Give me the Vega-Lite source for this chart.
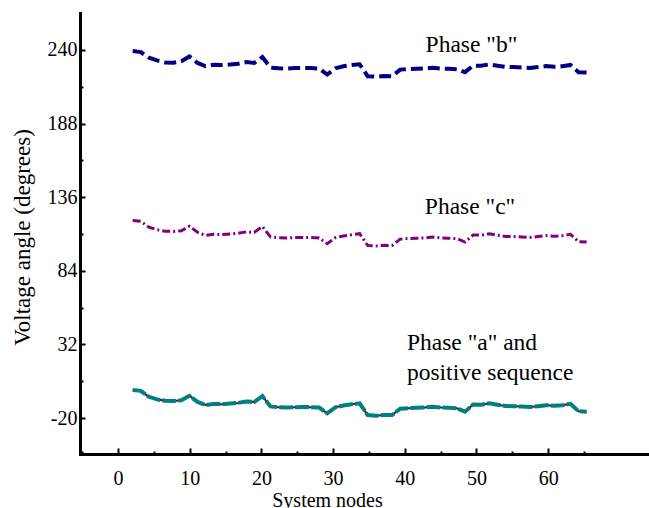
{
  "$schema": "https://vega.github.io/schema/vega-lite/v6.json",
  "width": 569,
  "height": 441,
  "autosize": {"type": "none"},
  "padding": {"left": 80, "top": 13, "right": 0, "bottom": 54},
  "config": {
    "view": {"stroke": null},
    "font": "Liberation Serif",
    "axis": {
      "labelFont": "Liberation Serif",
      "titleFont": "Liberation Serif",
      "labelColor": "black",
      "titleColor": "black",
      "domainColor": "black",
      "tickColor": "black",
      "grid": false,
      "labelFontSize": 20,
      "titleFontSize": 23,
      "titleFontWeight": "normal",
      "domainWidth": 3,
      "domainCap": "square",
      "tickWidth": 2
    }
  },
  "datasets": {
    "angles": [
      {"node":1,"x":2.05,"a":-0.2,"p":-0.2,"b":239.3,"c":119.6},
      {"node":2,"x":3.18,"a":-0.8,"p":-0.8,"b":238.5,"c":119.0},
      {"node":3,"x":4.31,"a":-5.0,"p":-5.0,"b":234.6,"c":114.8},
      {"node":4,"x":5.44,"a":-6.8,"p":-6.8,"b":232.6,"c":113.0},
      {"node":5,"x":6.57,"a":-7.8,"p":-7.8,"b":231.2,"c":112.0},
      {"node":6,"x":7.70,"a":-8.0,"p":-8.0,"b":231.0,"c":111.8},
      {"node":7,"x":8.83,"a":-7.5,"p":-7.5,"b":232.0,"c":112.3},
      {"node":8,"x":9.96,"a":-4.3,"p":-4.3,"b":235.4,"c":115.5},
      {"node":9,"x":11.09,"a":-8.6,"p":-8.6,"b":230.8,"c":111.2},
      {"node":10,"x":12.22,"a":-10.8,"p":-10.8,"b":228.5,"c":109.0},
      {"node":11,"x":13.36,"a":-10.0,"p":-10.0,"b":229.5,"c":109.8},
      {"node":12,"x":14.49,"a":-10.2,"p":-10.2,"b":229.3,"c":109.6},
      {"node":13,"x":15.62,"a":-9.8,"p":-9.8,"b":229.7,"c":110.0},
      {"node":14,"x":16.75,"a":-9.3,"p":-9.3,"b":230.2,"c":110.5},
      {"node":15,"x":17.88,"a":-8.3,"p":-8.3,"b":231.4,"c":111.5},
      {"node":16,"x":19.01,"a":-8.6,"p":-8.6,"b":230.8,"c":111.2},
      {"node":17,"x":20.14,"a":-4.5,"p":-4.5,"b":235.0,"c":115.3},
      {"node":18,"x":21.27,"a":-11.8,"p":-11.8,"b":227.5,"c":108.0},
      {"node":19,"x":22.40,"a":-12.4,"p":-12.4,"b":227.0,"c":107.4},
      {"node":20,"x":23.53,"a":-12.6,"p":-12.6,"b":226.9,"c":107.2},
      {"node":21,"x":24.66,"a":-12.3,"p":-12.3,"b":227.2,"c":107.5},
      {"node":22,"x":25.79,"a":-12.2,"p":-12.2,"b":227.3,"c":107.6},
      {"node":23,"x":26.92,"a":-12.3,"p":-12.3,"b":227.2,"c":107.5},
      {"node":24,"x":28.05,"a":-12.6,"p":-12.6,"b":226.9,"c":107.2},
      {"node":25,"x":29.18,"a":-16.7,"p":-16.7,"b":222.6,"c":103.1},
      {"node":26,"x":30.31,"a":-12.4,"p":-12.4,"b":227.0,"c":107.4},
      {"node":27,"x":31.44,"a":-11.2,"p":-11.2,"b":228.5,"c":108.6},
      {"node":28,"x":32.57,"a":-10.3,"p":-10.3,"b":229.4,"c":109.5},
      {"node":29,"x":33.70,"a":-9.6,"p":-9.6,"b":229.9,"c":110.2},
      {"node":30,"x":34.83,"a":-17.9,"p":-17.9,"b":221.4,"c":101.9},
      {"node":31,"x":35.97,"a":-18.3,"p":-18.3,"b":221.1,"c":101.5},
      {"node":32,"x":37.10,"a":-17.8,"p":-17.8,"b":221.6,"c":102.0},
      {"node":33,"x":38.23,"a":-17.9,"p":-17.9,"b":221.5,"c":101.9},
      {"node":34,"x":39.36,"a":-13.4,"p":-13.4,"b":226.1,"c":106.4},
      {"node":35,"x":40.49,"a":-13.0,"p":-13.0,"b":226.5,"c":106.8},
      {"node":36,"x":41.62,"a":-12.8,"p":-12.8,"b":226.7,"c":107.0},
      {"node":37,"x":42.75,"a":-12.6,"p":-12.6,"b":226.9,"c":107.2},
      {"node":38,"x":43.88,"a":-12.0,"p":-12.0,"b":227.5,"c":107.8},
      {"node":39,"x":45.01,"a":-12.6,"p":-12.6,"b":226.9,"c":107.2},
      {"node":40,"x":46.14,"a":-12.8,"p":-12.8,"b":226.7,"c":107.0},
      {"node":41,"x":47.27,"a":-13.1,"p":-13.1,"b":226.4,"c":106.7},
      {"node":42,"x":48.40,"a":-15.5,"p":-15.5,"b":224.3,"c":104.3},
      {"node":43,"x":49.53,"a":-10.5,"p":-10.5,"b":228.9,"c":109.3},
      {"node":44,"x":50.66,"a":-10.6,"p":-10.6,"b":228.9,"c":109.2},
      {"node":45,"x":51.79,"a":-9.6,"p":-9.6,"b":229.8,"c":110.2},
      {"node":46,"x":52.92,"a":-10.6,"p":-10.6,"b":228.9,"c":109.2},
      {"node":47,"x":54.05,"a":-11.5,"p":-11.5,"b":228.0,"c":108.3},
      {"node":48,"x":55.18,"a":-11.6,"p":-11.6,"b":227.9,"c":108.2},
      {"node":49,"x":56.31,"a":-11.9,"p":-11.9,"b":227.6,"c":107.9},
      {"node":50,"x":57.44,"a":-12.2,"p":-12.2,"b":227.3,"c":107.6},
      {"node":51,"x":58.58,"a":-11.6,"p":-11.6,"b":227.9,"c":108.2},
      {"node":52,"x":59.71,"a":-10.9,"p":-10.9,"b":228.6,"c":108.9},
      {"node":53,"x":60.84,"a":-11.4,"p":-11.4,"b":228.1,"c":108.4},
      {"node":54,"x":61.97,"a":-11.0,"p":-11.0,"b":228.5,"c":108.8},
      {"node":55,"x":63.10,"a":-10.0,"p":-10.0,"b":229.4,"c":109.8},
      {"node":56,"x":64.23,"a":-15.2,"p":-15.2,"b":224.3,"c":104.6},
      {"node":57,"x":65.36,"a":-15.5,"p":-15.5,"b":224.0,"c":104.3}
    ],
    "labels": [
      {"tx":42.9,"ty":238.6,"label":"Phase \"b\""},
      {"tx":42.8,"ty":124.1,"label":"Phase \"c\""},
      {"tx":40.3,"ty":28.0,"label":"Phase \"a\" and"},
      {"tx":40.3,"ty":7.0,"label":"positive sequence"}
    ]
  },
  "layer": [
    {
      "data": {"name": "angles"},
      "mark": {"type": "line", "color": "#000080", "strokeWidth": 4, "strokeDash": [12, 5]},
      "encoding": {
        "x": {"field": "x", "type": "quantitative",
          "scale": {"domain": [-5.3, 74.06], "nice": false, "zero": false},
          "axis": {"orient": "bottom", "values": [0,10,20,30,40,50,60], "ticks": false, "labelPadding": 30, "labelBaseline": "alphabetic",
            "labelExpr": "'' + datum.value",
            "title": "System nodes", "titleFontSize": 20, "titleX": 247, "titleY": 52, "titleBaseline": "alphabetic"}},
        "y": {"field": "b", "type": "quantitative",
          "scale": {"domain": [-45.4, 266.1], "nice": false, "zero": false},
          "axis": {"orient": "left", "values": [-20,32,84,136,188,240], "ticks": false, "labelPadding": 3,
            "labelExpr": "'' + datum.value",
            "title": "Voltage angle (degrees)", "titleX": -58, "titleY": 224, "titleBaseline": "middle", "titleAngle": -90}}
      }
    },
    {
      "data": {"name": "angles"},
      "mark": {"type": "line", "color": "#800080", "strokeWidth": 3, "strokeDash": [8, 3, 2, 3]},
      "encoding": {
        "x": {"field": "x", "type": "quantitative",
          "axis": {"orient": "bottom", "values": [-5,5,15,25,35,45,55,65], "tickSize": -3, "labels": false, "domain": false, "title": null}},
        "y": {"field": "c", "type": "quantitative",
          "axis": {"orient": "left", "values": [6,58,110,162,214], "tickSize": -3, "labels": false, "domain": false, "title": null}}
      }
    },
    {
      "data": {"name": "angles"},
      "mark": {"type": "line", "color": "#800000", "strokeWidth": 2},
      "encoding": {
        "x": {"field": "x", "type": "quantitative",
          "axis": {"orient": "bottom", "values": [0,10,20,30,40,50,60], "tickSize": -6, "labels": false, "domain": false, "title": null}},
        "y": {"field": "a", "type": "quantitative",
          "axis": {"orient": "left", "values": [-20,32,84,136,188,240], "tickSize": -5, "labels": false, "domain": false, "title": null}}
      }
    },
    {
      "data": {"name": "angles"},
      "mark": {"type": "line", "color": "#008080", "strokeWidth": 4, "strokeDash": [14, 2]},
      "encoding": {
        "x": {"field": "x", "type": "quantitative", "axis": null},
        "y": {"field": "p", "type": "quantitative", "axis": null}
      }
    },
    {
      "data": {"name": "labels"},
      "mark": {"type": "text", "align": "left", "baseline": "alphabetic", "font": "Liberation Serif", "fontSize": 23.5, "color": "black"},
      "encoding": {
        "x": {"field": "tx", "type": "quantitative", "axis": null},
        "y": {"field": "ty", "type": "quantitative", "axis": null},
        "text": {"field": "label"}
      }
    }
  ],
  "resolve": {"axis": {"x": "independent", "y": "independent"}}
}
